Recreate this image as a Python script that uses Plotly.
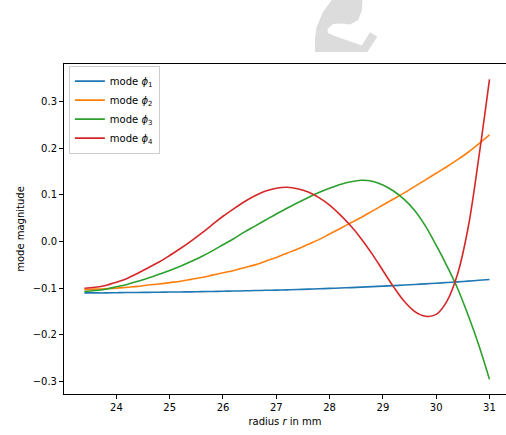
import plotly.graph_objects as go

# radius grid (mm), 0.2 mm steps from 23.4 to 31.0
radius = [23.4, 23.6, 23.8, 24.0, 24.2, 24.4, 24.6, 24.8, 25.0, 25.2, 25.4, 25.6, 25.8,
          26.0, 26.2, 26.4, 26.6, 26.8, 27.0, 27.2, 27.4, 27.6, 27.8, 28.0, 28.2, 28.4,
          28.6, 28.8, 29.0, 29.2, 29.4, 29.6, 29.8, 30.0, 30.2, 30.4, 30.6, 30.8, 31.0]

mode_phi1 = [-0.110, -0.110, -0.110, -0.1095, -0.109, -0.109, -0.1088, -0.1085, -0.108, -0.108,
             -0.1077, -0.1072, -0.107, -0.1064, -0.106, -0.1055, -0.105, -0.1044, -0.104, -0.1034,
             -0.1028, -0.102, -0.1012, -0.1004, -0.0995, -0.0986, -0.0976, -0.0966, -0.0955, -0.0944,
             -0.0932, -0.092, -0.0906, -0.0892, -0.0878, -0.0863, -0.0847, -0.0830, -0.0812]
mode_phi2 = [-0.103, -0.102, -0.101, -0.100, -0.098, -0.096, -0.093, -0.091, -0.088, -0.085,
             -0.081, -0.077, -0.072, -0.067, -0.062, -0.056, -0.050, -0.042, -0.034, -0.025,
             -0.016, -0.006, 0.004, 0.016, 0.028, 0.040, 0.052, 0.065, 0.078, 0.091,
             0.104, 0.118, 0.132, 0.146, 0.160, 0.175, 0.191, 0.209, 0.228]
mode_phi3 = [-0.107, -0.105, -0.102, -0.097, -0.092, -0.085, -0.078, -0.070, -0.062, -0.053,
             -0.043, -0.032, -0.020, -0.007, 0.006, 0.020, 0.033, 0.046, 0.059, 0.071,
             0.083, 0.094, 0.105, 0.114, 0.122, 0.128, 0.131, 0.129, 0.121, 0.108,
             0.090, 0.066, 0.033, -0.008, -0.052, -0.100, -0.158, -0.222, -0.295]
mode_phi4 = [-0.100, -0.098, -0.094, -0.087, -0.079, -0.068, -0.056, -0.044, -0.030, -0.015,
             0.001, 0.018, 0.036, 0.054, 0.070, 0.085, 0.098, 0.108, 0.114, 0.116,
             0.113, 0.106, 0.094, 0.078, 0.057, 0.033, 0.005, -0.027, -0.062, -0.097,
             -0.128, -0.150, -0.160, -0.156, -0.128, -0.070, 0.030, 0.180, 0.347]

series = [
    ("mode <i>ϕ</i><sub>1</sub>", mode_phi1, "#1f77b4"),
    ("mode <i>ϕ</i><sub>2</sub>", mode_phi2, "#ff7f0e"),
    ("mode <i>ϕ</i><sub>3</sub>", mode_phi3, "#2ca02c"),
    ("mode <i>ϕ</i><sub>4</sub>", mode_phi4, "#d62728"),
]

W, H = 506, 435
L, T, B, R = 64, 64, 41, 0

fig = go.Figure()
for name, vals, col in series:
    fig.add_trace(go.Scatter(x=radius, y=vals, mode="lines", name=name,
                             line=dict(color=col, width=1.6, shape="spline", smoothing=1.0)))

# faded logo fragment at top (pixel coords -> paper)
def px(x, y):
    return (x - L) / (W - L - R), (H - B - y) / (H - T - B)

pts = [(333.3, -2), (362.5, -2), (362, 10), (358.3, 20), (350, 24.5), (341.7, 23.5),
       (333, 24), (327.5, 29), (328, 33), (333.3, 35.5), (361.7, 45.5), (370, 32.3),
       (377.3, 36.7), (367.3, 52), (315, 52), (315, 38), (316.7, 26.7), (323, 12)]
path = ""
for i, (a, b) in enumerate(pts):
    xx, yy = px(a, b)
    path += ("M" if i == 0 else "L") + f"{xx:.4f},{yy:.4f} "
path += "Z"
fig.add_shape(type="path", path=path, xref="paper", yref="paper",
              fillcolor="#dcdcdc", line=dict(width=0), layer="above")

fig.update_layout(
    width=W, height=H,
    margin=dict(l=L, r=R, t=T, b=B),
    paper_bgcolor="white", plot_bgcolor="white",
    font=dict(family="DejaVu Sans", size=10, color="black"),
    showlegend=True,
    legend=dict(x=0.011, y=0.995, xanchor="left", yanchor="top",
                bgcolor="rgba(255,255,255,0.8)", bordercolor="#cccccc", borderwidth=1,
                font=dict(size=10), tracegroupgap=0),
)
fig.update_xaxes(range=[23.017, 31.31], showgrid=False, zeroline=False,
                 showline=True, linecolor="black", linewidth=1, mirror=True,
                 ticks="outside", ticklen=4, tickwidth=1, tickcolor="black",
                 tickvals=[24, 25, 26, 27, 28, 29, 30, 31],
                 title=dict(text="radius <i>r</i> in mm", standoff=5, font=dict(size=10)))
fig.update_yaxes(range=[-0.3263, 0.3798], showgrid=False, zeroline=False,
                 showline=True, linecolor="black", linewidth=1, mirror=False,
                 ticks="outside", ticklen=4, tickwidth=1, tickcolor="black",
                 tickvals=[-0.3, -0.2, -0.1, 0.0, 0.1, 0.2, 0.3], tickformat=".1f",
                 title=dict(text="mode magnitude", standoff=6, font=dict(size=10)))

fig.write_html("out.html")
